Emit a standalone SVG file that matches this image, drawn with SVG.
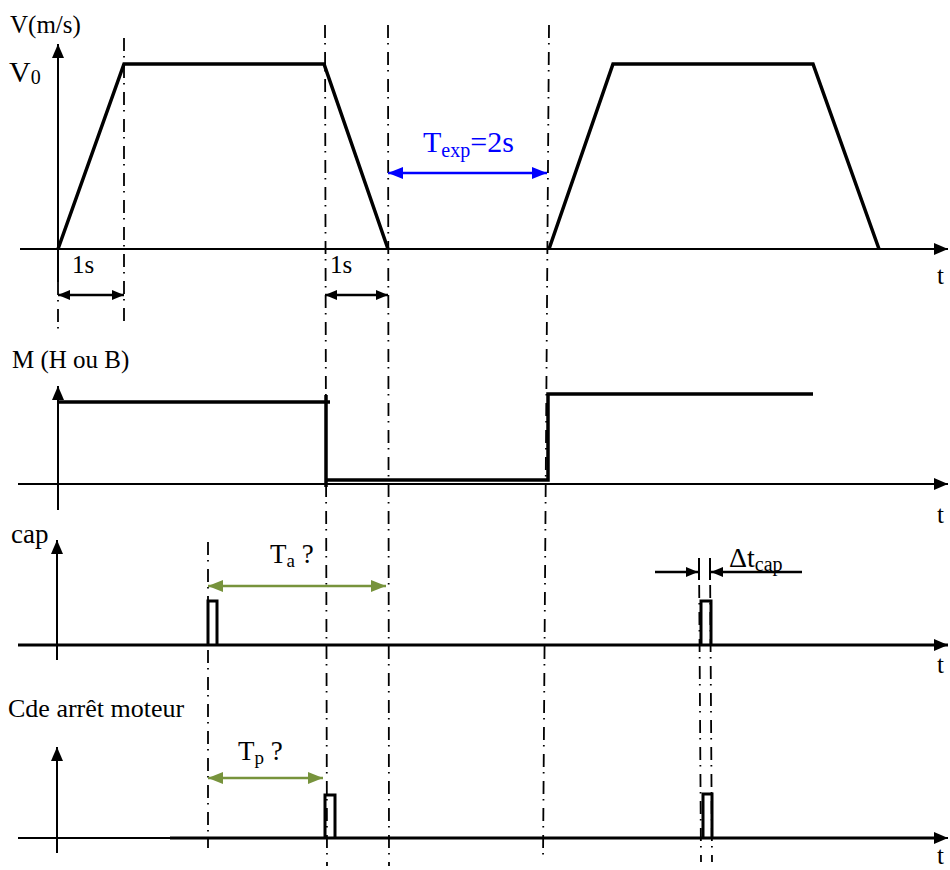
<svg xmlns="http://www.w3.org/2000/svg" width="950" height="870" viewBox="0 0 950 870">
<style>
text{font-family:"Liberation Serif","Times New Roman",serif;fill:#000;font-size:25px}
.sub{font-size:18px}
.ax{stroke:#000;stroke-width:2;fill:none}
.axt{stroke:#000;stroke-width:3;fill:none}
.sig{stroke:#000;stroke-width:3.5;fill:none;stroke-linejoin:miter}
.dd{stroke:#000;stroke-width:1.8;fill:none;stroke-dasharray:13 5 1.5 7.5}
.blk{stroke:#000;stroke-width:2.5;fill:none}
.blue{stroke:#0000ff;stroke-width:2.5;fill:none}
.green{stroke:#77933c;stroke-width:2.5;fill:none}
</style>
<defs>
<marker id="ah" markerUnits="userSpaceOnUse" markerWidth="16" markerHeight="14" refX="14" refY="6" orient="auto"><path d="M0,0 L14,6 L0,12 Z" fill="#000"/></marker>
<marker id="bk" markerUnits="userSpaceOnUse" markerWidth="14" markerHeight="12" refX="12" refY="5" orient="auto-start-reverse"><path d="M0,0 L12,5 L0,10 Z" fill="#000"/></marker>
<marker id="bl" markerUnits="userSpaceOnUse" markerWidth="17" markerHeight="14" refX="15" refY="6" orient="auto-start-reverse"><path d="M0,0 L15,6 L0,12 Z" fill="#0000ff"/></marker>
<marker id="gr" markerUnits="userSpaceOnUse" markerWidth="17" markerHeight="14" refX="15" refY="6" orient="auto-start-reverse"><path d="M0,0 L15,6 L0,12 Z" fill="#77933c"/></marker>
</defs>

<g id="guides">
<line class="dd" x1="58" y1="282" x2="58" y2="336"/>
<line class="dd" x1="124" y1="38" x2="124" y2="326"/>
<line class="dd" x1="208" y1="542" x2="208" y2="848"/>
<line class="dd" x1="325" y1="25" x2="327" y2="866"/>
<line class="dd" x1="388" y1="25" x2="389" y2="866"/>
<line class="dd" x1="549" y1="25" x2="543" y2="862"/>
<line class="dd" x1="699" y1="558" x2="701" y2="862"/>
<line class="dd" x1="710" y1="558" x2="712" y2="862"/>
</g>

<g id="chart-v">
<line class="ax" x1="58" y1="282" x2="58" y2="44" marker-end="url(#ah)"/>
<line class="ax" x1="20" y1="249" x2="948" y2="249" marker-end="url(#ah)"/>
<polyline class="sig" points="58,249 124,64 324,64 388,249"/>
<polyline class="sig" points="549,249 613,64 813,64 879,249"/>
<text x="10" y="33">V(m/s)</text>
<text x="9" y="82" style="font-size:30px">V<tspan style="font-size:20px" dy="2">0</tspan></text>
<text x="937" y="284">t</text>
</g>

<g id="chart-m">
<line class="ax" x1="58" y1="510" x2="58" y2="386" marker-end="url(#ah)"/>
<line class="ax" x1="18" y1="484" x2="948" y2="484" marker-end="url(#ah)"/>
<polyline class="sig" points="58,402 330,402"/>
<polyline class="sig" points="326,395 326,487"/>
<polyline class="sig" points="326,480 548,480 548,394 813,394"/>
<text x="12" y="368">M (H ou B)</text>
<text x="937" y="523">t</text>
</g>

<g id="chart-cap">
<line class="ax" x1="57" y1="660" x2="57" y2="540" marker-end="url(#ah)"/>
<line class="axt" x1="18" y1="645" x2="948" y2="645" marker-end="url(#ah)"/>
<polyline class="sig" style="stroke-width:3" points="208,645 208,601 217,601 217,645"/>
<polyline class="sig" style="stroke-width:3" points="701,645 701,601 711,601 711,645"/>
<text x="11" y="543" style="font-size:27px">cap</text>
<text x="937" y="673">t</text>
</g>

<g id="chart-cde">
<line class="ax" x1="57" y1="853" x2="57" y2="747" marker-end="url(#ah)"/>
<line class="ax" x1="18" y1="838" x2="948" y2="838" marker-end="url(#ah)"/>
<line class="axt" x1="170" y1="838" x2="935" y2="838"/>
<polyline class="sig" style="stroke-width:3" points="325,838 325,795 335,795 335,838"/>
<polyline class="sig" style="stroke-width:3" points="703,838 703,794 712,794 712,838"/>
<text x="8" y="717" style="font-size:26px">Cde arrêt moteur</text>
<text x="937" y="864">t</text>
</g>

<g id="dimensions">
<line class="blk" x1="58" y1="295" x2="124" y2="295" marker-start="url(#bk)" marker-end="url(#bk)"/>
<line class="blk" x1="325" y1="295" x2="388" y2="295" marker-start="url(#bk)" marker-end="url(#bk)"/>
<text x="72" y="273">1s</text>
<text x="330" y="273">1s</text>
<line class="blue" x1="388" y1="173" x2="547" y2="173" marker-start="url(#bl)" marker-end="url(#bl)"/>
<text x="423" y="152" style="fill:#0000ff;font-size:30px">T<tspan style="font-size:20px" dy="5">exp</tspan><tspan dy="-5">=2s</tspan></text>
<line class="green" x1="208" y1="586" x2="386" y2="586" marker-start="url(#gr)" marker-end="url(#gr)"/>
<text x="270" y="563" style="font-size:27px">T<tspan style="font-size:19px" dy="4">a</tspan><tspan dy="-4"> ?</tspan></text>
<line class="green" x1="208" y1="778" x2="323" y2="778" marker-start="url(#gr)" marker-end="url(#gr)"/>
<text x="238" y="760" style="font-size:27px">T<tspan style="font-size:19px" dy="4">p</tspan><tspan dy="-4"> ?</tspan></text>
<line class="ax" x1="699" y1="558" x2="699" y2="580"/>
<line class="ax" x1="710" y1="558" x2="710" y2="580"/>
<line class="blk" x1="655" y1="572" x2="698" y2="572" marker-end="url(#bk)"/>
<line class="blk" x1="802" y1="572" x2="711" y2="572" marker-end="url(#bk)"/>
<text x="729" y="567" style="font-size:28px">Δt<tspan style="font-size:20px" dy="4">cap</tspan></text>
</g>
</svg>
